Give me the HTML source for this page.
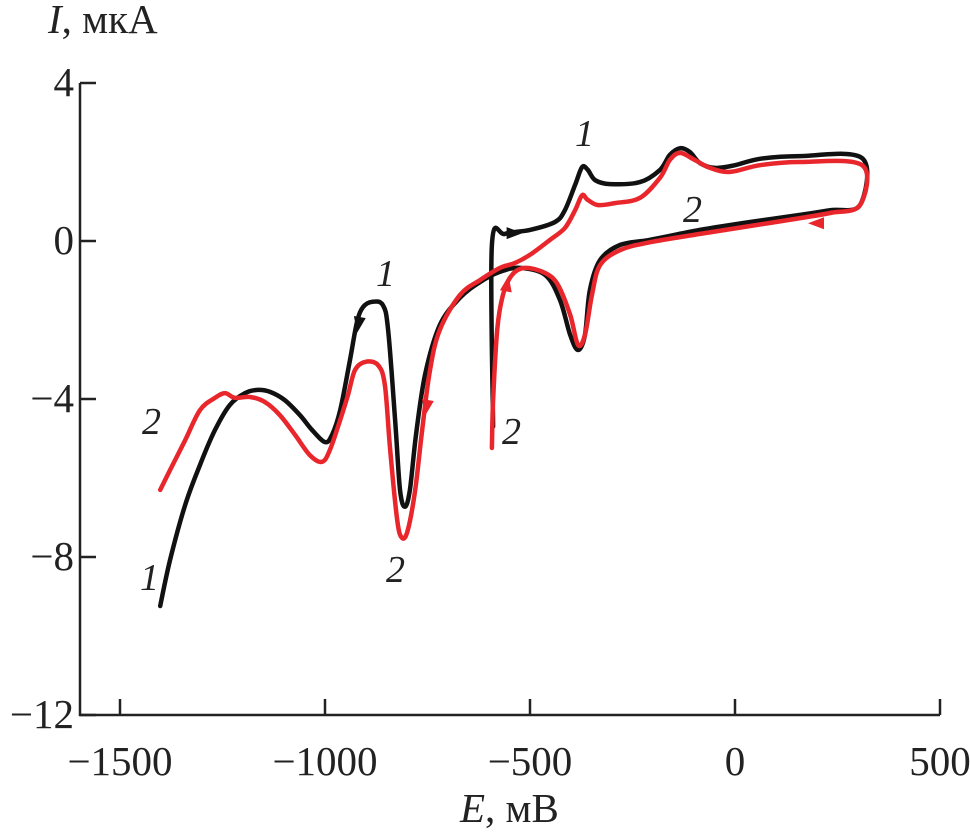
<!DOCTYPE html>
<html><head><meta charset="utf-8"><style>
html,body{margin:0;padding:0;background:#fff;}
svg{display:block;font-family:"Liberation Serif",serif;}
</style></head><body>
<svg id="chart" width="970" height="833" viewBox="0 0 970 833" xmlns="http://www.w3.org/2000/svg">
<g id="axes"></g>
<g id="series"></g>
<g id="labels"></g>
<text x="48" y="33" font-size="41" fill="#222"><tspan font-style="italic">I</tspan>, мкА</text>
<text x="460" y="822" font-size="41" fill="#222"><tspan font-style="italic">E</tspan>, мВ</text>
</svg>
<script>
const xTicks=[-1500,-1000,-500,0,500];
const xTickLabels=["\u22121500","\u22121000","\u2212500","0","500"];
const yTicks=[4,0,-4,-8,-12];
const yTickLabels=["4","0","\u22124","\u22128","\u221212"];
const curve1E=[-590,-593,-561,-500,-439,-415,-390,-373,-359,-341,-305,-232,-183,-159,-134,-110,-85,-49,0,61,159,310,305,232,159,37,-85,-207,-280,-329,-354,-366,-383,-402,-427,-463,-524,-573,-622,-671,-720,-756,-778,-793,-805,-817,-829,-846,-859,-885,-907,-922,-939,-963,-983,-1000,-1032,-1061,-1098,-1134,-1163,-1195,-1232,-1268,-1305,-1341,-1378,-1402];
const curve1I=[-4.7,-0.1,0.18,0.28,0.48,0.78,1.42,1.87,1.8,1.54,1.44,1.49,1.8,2.18,2.35,2.25,1.97,1.85,1.92,2.08,2.15,2.1,0.91,0.78,0.66,0.48,0.28,0.03,-0.1,-0.48,-1.24,-2.38,-2.76,-2.38,-1.49,-0.86,-0.68,-0.78,-1.04,-1.44,-2.13,-3.39,-4.91,-6.3,-6.73,-6.3,-4.53,-2.25,-1.62,-1.54,-1.67,-2.05,-3.01,-4.28,-4.91,-5.09,-4.78,-4.41,-4.03,-3.82,-3.77,-3.85,-4.15,-4.78,-5.67,-6.68,-8.08,-9.24];
const curve2E=[-593,-590,-580,-566,-544,-512,-463,-432,-402,-383,-366,-349,-329,-280,-207,-85,37,159,232,305,310,159,61,-12,-61,-98,-134,-159,-183,-232,-293,-334,-359,-373,-390,-415,-451,-500,-537,-573,-622,-671,-720,-744,-763,-780,-798,-812,-824,-841,-854,-871,-902,-927,-944,-963,-988,-1007,-1037,-1073,-1110,-1146,-1183,-1220,-1244,-1268,-1305,-1341,-1378,-1402];
const curve2I=[-5.24,-4.03,-2.25,-1.37,-0.86,-0.68,-0.81,-1.11,-1.87,-2.63,-2.38,-1.37,-0.61,-0.23,-0.03,0.18,0.38,0.58,0.71,0.91,1.92,2.0,1.92,1.75,1.85,2.05,2.23,2.05,1.6,1.09,0.96,0.91,1.04,1.16,0.78,0.33,0.03,-0.35,-0.56,-0.68,-0.99,-1.37,-2.25,-3.27,-4.78,-6.3,-7.32,-7.52,-7.06,-5.29,-3.65,-3.14,-3.06,-3.27,-3.9,-4.53,-5.29,-5.59,-5.42,-4.91,-4.41,-4.08,-3.95,-3.97,-3.85,-3.97,-4.28,-5.04,-5.8,-6.3];
const NS="http://www.w3.org/2000/svg";
function sx(e){return 735+e*0.41;}
function sy(i){return 241-i*39.5;}
function mk(tag,attrs,parent){const el=document.createElementNS(NS,tag);for(const k in attrs)el.setAttribute(k,attrs[k]);parent.appendChild(el);return el;}
const axes=document.getElementById('axes');
let el=mk('path',{d:`M80,${sy(4)} V${sy(-12)} H940`,fill:'none',stroke:'#222','stroke-width':2.5},axes);


xTicks.forEach((t,k)=>{
  let l=mk('line',{x1:sx(t),x2:sx(t),y1:sy(-12),y2:sy(-12)-16,stroke:'#222','stroke-width':2.5},axes);
  
  
  let tx=mk('text',{x:sx(t),y:775,'font-size':41,'text-anchor':'middle',fill:'#222'},axes);
  tx.textContent=xTickLabels[k];
  
  
});
yTicks.forEach((t,k)=>{
  let l=mk('line',{x1:80,x2:96,y1:sy(t),y2:sy(t),stroke:'#222','stroke-width':2.5},axes);
  
  
  let tx=mk('text',{x:74,y:sy(t)+13,'font-size':41,'text-anchor':'end',fill:'#222'},axes);
  tx.textContent=yTickLabels[k];
  
  
});
const series=document.getElementById('series');
function drawCurve(E,I,color,name){
  const P=E.map((e,k)=>[sx(e),sy(I[k])]);
  let d='M'+P[0][0].toFixed(1)+','+P[0][1].toFixed(1);
  for(let k=0;k<P.length-1;k++){
    const p0=P[Math.max(0,k-1)],p1=P[k],p2=P[k+1],p3=P[Math.min(P.length-1,k+2)];
    const c1=[p1[0]+(p2[0]-p0[0])/6,p1[1]+(p2[1]-p0[1])/6];
    const c2=[p2[0]-(p3[0]-p1[0])/6,p2[1]-(p3[1]-p1[1])/6];
    d+=` C${c1[0].toFixed(1)},${c1[1].toFixed(1)} ${c2[0].toFixed(1)},${c2[1].toFixed(1)} ${p2[0].toFixed(1)},${p2[1].toFixed(1)}`;
  }
  const p=mk('path',{d:d,fill:'none',stroke:color,'stroke-width':4.5,'stroke-linejoin':'round','stroke-linecap':'round'},series);
  
  
}
drawCurve(curve1E,curve1I,'#111','curve-1-black');
drawCurve(curve2E,curve2I,'#e8262b','curve-2-red');
function arrow(e,i,ang,color){
  const x=sx(e),y=sy(i);
  const g=mk('polygon',{points:'9,0 -7,-6 -7,6',fill:color,transform:`translate(${x},${y}) rotate(${ang})`},series);
  
  
}
arrow(-540,0.2,0,'#111');
arrow(-918,-2.1,100,'#111');
arrow(200,0.45,180,'#e8262b');
arrow(-752,-4.2,100,'#e8262b');
arrow(-556,-1.1,-80,'#e8262b');
const labels=document.getElementById('labels');
[[575,146,'1'],[683,222,'2'],[376,286,'1'],[142,434,'2'],[502,444,'2'],[386,582,'2'],[140,590,'1']].forEach(a=>{
  const t=mk('text',{x:a[0],y:a[1],'font-size':38,'font-style':'italic',fill:'#222'},labels);
  t.textContent=a[2];
  
  
});
</script>
</body></html>
